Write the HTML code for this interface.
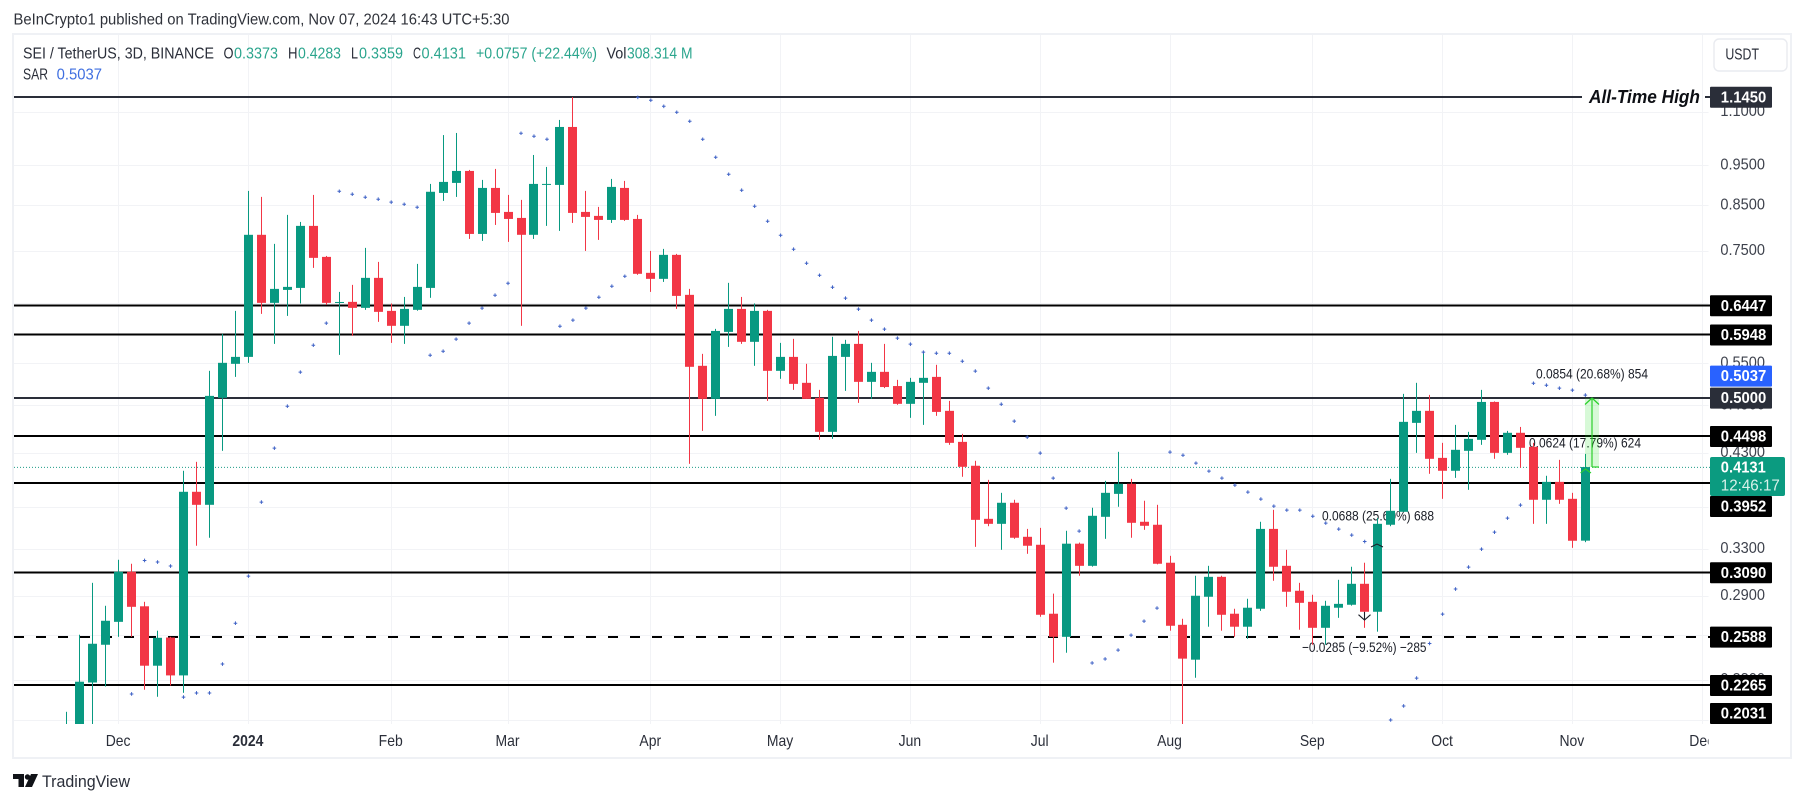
<!DOCTYPE html>
<html lang="en">
<head>
<meta charset="utf-8">
<title>SEI / TetherUS 3D chart</title>
<style>
html,body{margin:0;padding:0;background:#fff;width:1804px;height:803px;overflow:hidden}
svg{position:absolute;left:0;top:0;display:block}
text{font-family:"Liberation Sans",sans-serif;dominant-baseline:central}
</style>
</head>
<body>
<svg id="chart" xmlns="http://www.w3.org/2000/svg" width="1804" height="803" viewBox="0 0 1804 803">
  <defs>
    <clipPath id="plot-clip"><rect x="14" y="35" width="1694.5" height="689"/></clipPath>
    <clipPath id="time-clip"><rect x="14" y="725" width="1694.5" height="33"/></clipPath>
  </defs>
  <rect x="0" y="0" width="1804" height="803" fill="#ffffff"/>
  <rect x="13" y="34" width="1778" height="724" fill="#ffffff" stroke="#eff1f5" stroke-width="2"/>
  <text x="13.5" y="20" font-size="15.5" fill="#2f323a" textLength="496" lengthAdjust="spacingAndGlyphs">BeInCrypto1 published on TradingView.com, Nov 07, 2024 16:43 UTC+5:30</text>

  <g id="grid-layer" clip-path="url(#plot-clip)"></g>
  <g id="level-layer"></g>

  <g font-size="14" fill="#1a1d26">
    <text x="1536" y="373.7" textLength="112" lengthAdjust="spacingAndGlyphs">0.0854 (20.68%) 854</text>
    <text x="1529" y="442.7" textLength="112" lengthAdjust="spacingAndGlyphs">0.0624 (17.79%) 624</text>
    <text x="1322" y="515.7" textLength="112" lengthAdjust="spacingAndGlyphs">0.0688 (25.60%) 688</text>
    <text x="1302" y="647" textLength="124.5" lengthAdjust="spacingAndGlyphs">−0.0285 (−9.52%) −285</text>
  </g>

  <g id="candle-layer" clip-path="url(#plot-clip)"></g>
  <g id="sar-layer" clip-path="url(#plot-clip)"></g>

  <g>
    <rect x="1585" y="398" width="14" height="69" fill="#20e020" fill-opacity="0.18"/>
    <path d="M1592 467V398M1585 404.5L1592 398L1599 404.5" fill="none" stroke="#2bd02b" stroke-width="1.2"/>
    <path d="M1592 467H1599" fill="none" stroke="#2bd02b" stroke-width="1.2"/>
    <path d="M1580.5 473L1585.5 469L1591 473" fill="none" stroke="#2bd02b" stroke-width="1.1"/>
    <path d="M1364.5 612V620M1358.5 614.7L1364.5 620L1370.5 614.7" fill="none" stroke="#1a1d26" stroke-width="1.1"/>
    <path d="M1371 547L1377 544L1383 547" fill="none" stroke="#1a1d26" stroke-width="1"/>
  </g>

  <text x="1589" y="97" font-size="18" font-style="italic" font-weight="bold" fill="#0d0f14" textLength="111" lengthAdjust="spacingAndGlyphs">All-Time High</text>

  <g id="axis-layer"></g>
  <g id="time-layer" clip-path="url(#time-clip)"></g>
  <g id="label-layer"></g>

  <g>
    <rect x="1710" y="457" width="75" height="39" rx="2" fill="#0b9b80"/>
    <text x="1720.8" y="468" font-size="16" font-weight="bold" fill="#ffffff" textLength="45" lengthAdjust="spacingAndGlyphs">0.4131</text>
    <text x="1720.8" y="486" font-size="16" fill="#d9f1ea" textLength="59" lengthAdjust="spacingAndGlyphs">12:46:17</text>
  </g>

  <g font-size="15.5" fill="#2a2e39">
    <text x="23" y="54" textLength="191" lengthAdjust="spacingAndGlyphs">SEI / TetherUS, 3D, BINANCE</text>
    <text x="223.5" y="54" textLength="10" lengthAdjust="spacingAndGlyphs">O</text>
    <text x="234" y="54" fill="#2aa58d" textLength="44" lengthAdjust="spacingAndGlyphs">0.3373</text>
    <text x="288" y="54" textLength="9.5" lengthAdjust="spacingAndGlyphs">H</text>
    <text x="298" y="54" fill="#2aa58d" textLength="43" lengthAdjust="spacingAndGlyphs">0.4283</text>
    <text x="351" y="54" textLength="7" lengthAdjust="spacingAndGlyphs">L</text>
    <text x="359" y="54" fill="#2aa58d" textLength="44" lengthAdjust="spacingAndGlyphs">0.3359</text>
    <text x="413" y="54" textLength="8" lengthAdjust="spacingAndGlyphs">C</text>
    <text x="421.5" y="54" fill="#2aa58d" textLength="44.5" lengthAdjust="spacingAndGlyphs">0.4131</text>
    <text x="476" y="54" fill="#2aa58d" textLength="121" lengthAdjust="spacingAndGlyphs">+0.0757 (+22.44%)</text>
    <text x="606.5" y="54" textLength="20" lengthAdjust="spacingAndGlyphs">Vol</text>
    <text x="627" y="54" fill="#2aa58d" textLength="65.5" lengthAdjust="spacingAndGlyphs">308.314 M</text>
    <text x="23" y="75" textLength="25" lengthAdjust="spacingAndGlyphs">SAR</text>
    <text x="56.6" y="75" fill="#3f6fe0" textLength="45.4" lengthAdjust="spacingAndGlyphs">0.5037</text>
  </g>

  <g>
    <rect x="1714" y="39" width="73" height="32" rx="5" fill="#ffffff" stroke="#e9ebf0" stroke-width="1.4"/>
    <text x="1725.4" y="55" font-size="15.5" fill="#2a2e39" textLength="33.6" lengthAdjust="spacingAndGlyphs">USDT</text>
  </g>

  <g>
    <path d="M13 774H24V787H18.5V779H13Z M31 774H38L32 787H25Z" fill="#111318"/>
    <circle cx="27.5" cy="777" r="2.7" fill="#111318"/>
    <text x="42" y="781.5" font-size="17" fill="#2a2e39" textLength="88" lengthAdjust="spacingAndGlyphs">TradingView</text>
  </g>
</svg>

<script>
const opens = [.185,.20,.2282,.2532,.2697,.3096,.2815,.2390,.2583,.2327,
.3859,.3723,.4999,.5490,.5596,.7833,.6494,.6730,.6767,.8028,
.7371,.650,.6512,.6405,.6957,.6352,.6096,.6370,.6767,.8791,
.9037,.9340,.7852,.8913,.8343,.8206,.7833,.900,.8987,1.0543,
.8343,.8252,.8161,.8913,.8183,.7054,.6938,.7412,.6639,.5460,
.4985,.5995,.6387,.5833,.6352,.5385,.5596,.5210,.4999,.4552,
.5596,.5800,.5224,.5370,.5164,.4917,.5210,.5296,.4823,.4428,
.4146,.3582,.3533,.3744,.3409,.3335,.2758,.2588,.3345,.3147,
.3602,.3837,.3945,.3553,.3524,.3174,.2675,.2430,.2890,.3053,
.2758,.2661,.2796,.3484,.3147,.2938,.2850,.2653,.2804,.2827,
.2995,.2773,.3524,.3652,.4666,.4823,.4237,.4089,.4320,.4453,
.4943,.4296,.4540,.4368,.3775,.3966,.3785,.3373];
const highs = [.2105,.2603,.3003,.2819,.32,.3165,.2850,.2632,.2588,.4089,
.4191,.5385,.5962,.6352,.8840,.8696,.7640,.8275,.8116,.8743,
.739,.6693,.6824,.7556,.7270,.6483,.6601,.7230,.9012,1.031,
1.037,.9366,.9112,.9392,.8743,.8624,.9760,.9444,1.0749,1.145,
.8840,.8459,.9137,.9087,.8275,.7493,.7535,.7432,.6749,.5643,
.6045,.6862,.6601,.6483,.6370,.5816,.5881,.5490,.5110,.5914,
.5865,.6011,.5505,.5800,.5253,.5282,.5674,.5475,.4957,.4527,
.4203,.3988,.3848,.3775,.3484,.3494,.2915,.3466,.3355,.3693,
.3977,.4308,.3999,.3765,.3723,.3235,.2720,.3062,.3147,.3062,
.2796,.2874,.3553,.3672,.3289,.3003,.2906,.2858,.3028,.3139,
.3174,.359,.3999,.5054,.5210,.5040,.4416,.4640,.4552,.5110,
.4950,.4564,.4614,.4416,.4033,.4214,.3848,.4283];
const lows = [.18,.195,.2,.2257,.2588,.2588,.2237,.2194,.2263,.2218,
.3326,.3400,.4320,.5296,.5505,.6300,.5800,.6265,.6483,.7151,
.6458,.5627,.5930,.6370,.6163,.5816,.5800,.6355,.6585,.8600,
.8695,.7745,.7703,.8049,.7682,.6096,.7745,.8028,.7918,.8094,
.7493,.7724,.8094,.8139,.7016,.6693,.6880,.6387,.4168,.4564,
.4757,.5752,.5800,.5460,.4957,.5268,.5110,.4985,.4453,.4465,
.5096,.4930,.4985,.5135,.4904,.4731,.4640,.4757,.4392,.4022,
.3316,.3510,.3289,.3390,.3253,.2735,.2410,.2477,.3062,.3140,
.3390,.3703,.3400,.3475,.3160,.2632,.2035,.2312,.2661,.2632,
.2588,.2574,.2780,.3020,.2811,.2639,.2532,.2532,.2727,.2820,
.2653,.2625,.3510,.3652,.4296,.4055,.3785,.4010,.3880,.4392,
.4226,.4273,.4123,.3533,.3533,.3733,.3307,.3359];
const closes = [.195,.2287,.2539,.2705,.3096,.2811,.2390,.2581,.2327,.3859,
.3723,.5026,.5505,.5596,.7833,.6494,.6749,.6786,.8028,.7351,
.6494,.651,.6405,.6957,.6335,.6096,.6387,.6786,.8819,.9062,
.9340,.7852,.8913,.8320,.8183,.7833,.9012,.9012,1.0543,.8320,
.8229,.8161,.8938,.8161,.7035,.6938,.7412,.6620,.5445,.4985,
.6011,.6387,.5833,.6352,.5385,.5596,.5195,.4985,.4552,.5611,
.5800,.5224,.5370,.5150,.4917,.5224,.5282,.4809,.4416,.4134,
.3572,.3533,.3744,.3400,.3326,.2750,.2588,.3345,.3147,.3612,
.3848,.3945,.3543,.3514,.3165,.2668,.2437,.2898,.3053,.2750,
.2661,.2804,.3484,.3139,.2930,.2842,.2653,.2819,.2834,.2995,
.2773,.3533,.3662,.4679,.4823,.4226,.4089,.4332,.4465,.4943,
.4296,.4540,.4356,.3775,.3966,.3775,.3372,.4131];
const sarValues = [null,null,null,null,null,.2211,.3194,.3180,.3145,.2192,
.2217,.2217,.2401,.2687,.3059,.3751,.4352,.4885,.5366,.5779,
.6141,.8832,.8760,.8688,.8640,.8570,.8521,.8451,.5622,.5684,
.5876,.6141,.6400,.6632,.6854,1.0362,1.0277,1.0192,.6089,.6192,
.6400,.6596,.6799,.6988,1.1440,1.1348,1.1161,1.0979,1.0710,1.0192,
.9699,.9255,.8857,.8475,.8132,.7823,.7528,.7243,.7007,.6780,
.6579,.6382,.6192,.6040,.5892,.5796,.5669,.5653,.5653,.5530,
.5381,.5134,.4912,.4688,.4486,.4293,.4007,.3689,.3463,.2408,
.2435,.2495,.2600,.2702,.2801,.4305,.4268,.4176,.4085,.4007,
.3930,.3856,.3782,.3709,.3669,.3669,.3608,.3540,.3482,.3425,
.3365,null,.2058,.2139,.2310,.2541,.2755,.2952,.3136,.3295,
.3453,.3589,.3720,.5204,.5176,.5134,.5106,.5037];
const levelPrices = [1.145,.6447,.5948,.5,.4498,.3952,.309,.2588,.2265];
const levelStyles = ['ath','solid','solid','dark','solid','solid','solid','dashed','solid'];
const axisPrices = [1.1,.95,.85,.75,.65,.55,.49,.43,.37,.33,.29,.26,.23,.206];
const axisLabels = ['1.1000','0.9500','0.8500','0.7500','0.6500','0.5500','0.4900','0.4300','0.3700','0.3300','0.2900','0.2600','0.2300','0.2060'];
const badgePrices = [1.145,.6447,.5948,.5037,.5,.4498,.3952,.309,.2588,.2265,.2031];
const badgeLabels = ['1.1450','0.6447','0.5948','0.5037','0.5000','0.4498','0.3952','0.3090','0.2588','0.2265','0.2031'];
const badgeColors = ['#2a2e39','#000000','#000000','#2962ff','#2a2e39','#000000','#000000','#000000','#000000','#000000','#000000'];
const monthBars = [4,14,25,34,45,55,65,75,85,96,106,116,126];
const monthLabels = ['Dec','2024','Feb','Mar','Apr','May','Jun','Jul','Aug','Sep','Oct','Nov','Dec'];
const lastPrice = 0.4131;

const SVGNS = 'http://www.w3.org/2000/svg';
function xAt(i){ return 66.2 + i * 12.98; }
function yAt(p){ return 97 + 363 * Math.log(1.145 / p); }
function mk(parent, tag, attrs){
  const n = document.createElementNS(SVGNS, tag);
  for (const k in attrs) n.setAttribute(k, attrs[k]);
  parent.appendChild(n);
  return n;
}
const gridLayer = document.getElementById('grid-layer');
const levelLayer = document.getElementById('level-layer');
const candleLayer = document.getElementById('candle-layer');
const sarLayer = document.getElementById('sar-layer');
const axisLayer = document.getElementById('axis-layer');
const timeLayer = document.getElementById('time-layer');
const labelLayer = document.getElementById('label-layer');

axisPrices.forEach(function(p, i){
  const gy = Math.round(yAt(p)) + 0.5;
  const gl = mk(gridLayer, 'line', {x1:14, x2:1708.5, y1:gy, y2:gy, stroke:'#f2f3f6', 'stroke-width':1});
  
  
  const tx = mk(axisLayer, 'text', {x:1720.4, y:yAt(p), 'font-size':16, fill:'#3d414c', textLength:44.6, lengthAdjust:'spacingAndGlyphs'});
  
  
  tx.textContent = axisLabels[i];
});

monthBars.forEach(function(b, i){
  const vx = Math.round(xAt(b)) + 0.5;
  const vl = mk(gridLayer, 'line', {x1:vx, x2:vx, y1:35, y2:724, stroke:'#f2f3f6', 'stroke-width':1});
  
  
  const isYear = monthLabels[i] === '2024';
  const tl = mk(timeLayer, 'text', {x:xAt(b), y:741.7, 'font-size':15.5, fill:'#2a2e39', 'text-anchor':'middle', 'font-weight':isYear ? 'bold' : 'normal', transform:'translate(' + xAt(b) + ' 0) scale(.9 1) translate(' + (-xAt(b)) + ' 0)'});
  
  
  tl.textContent = monthLabels[i];
});

levelPrices.forEach(function(p, i){
  const ly = Math.round(yAt(p) * 2) / 2;
  const st = levelStyles[i];
  const attrs = {x1:14, x2:1710, y1:ly, y2:ly, stroke:'#000000', 'stroke-width':2};
  if (st === 'dark' || st === 'ath') attrs.stroke = '#2a2e39';
  if (st === 'dashed') attrs['stroke-dasharray'] = '10 12';
  if (st === 'ath') attrs.x2 = 1582;
  const ln = mk(levelLayer, 'line', attrs);
  
  
  if (st === 'ath') {
    const tail = mk(levelLayer, 'line', {x1:1705, x2:1710, y1:ly, y2:ly, stroke:'#2a2e39', 'stroke-width':2});
    
    
  }
});

const lastLine = mk(levelLayer, 'line', {x1:14, x2:1710, y1:yAt(lastPrice) + 0.3, y2:yAt(lastPrice) + 0.3, stroke:'#1f9d87', 'stroke-width':1, 'stroke-dasharray':'1 2'});



closes.forEach(function(c, i){
  const o = opens[i];
  const up = c >= o;
  const col = up ? '#089981' : '#f23645';
  const cx = Math.round(xAt(i));
  const wick = mk(candleLayer, 'rect', {x:cx, y:yAt(highs[i]), width:1, height:Math.max(0.5, yAt(lows[i]) - yAt(highs[i])), fill:col});
  
  
  const top = yAt(Math.max(o, c));
  const bot = yAt(Math.min(o, c));
  const body = mk(candleLayer, 'rect', {x:cx - 4, y:top, width:9, height:Math.max(1, bot - top), fill:col});
  
  
});

sarValues.forEach(function(v, i){
  if (v === null) return;
  const sx = xAt(i) + 0.5;
  const sy = yAt(v);
  const pt = mk(sarLayer, 'path', {d:'M' + (sx - 1.8) + ' ' + sy + 'H' + (sx + 1.8) + 'M' + sx + ' ' + (sy - 1.8) + 'V' + (sy + 1.8), stroke:'#3f62c6', 'stroke-width':1, fill:'none'});
  
  
});

/* badge layout: labels are pushed clear of the live-price box and of each other, as TradingView does */
const badgeH = 21;
const liveTop = 457;
const liveBottom = 496;
const centers = badgePrices.map(function(p){
  let cy = Math.min(yAt(p) + 0.3, 713.5);
  if (p < lastPrice && cy - badgeH / 2 < liveBottom && cy + badgeH / 2 > liveTop) cy = liveBottom + badgeH / 2;
  return cy;
});
for (let i = centers.length - 2; i >= 0; i--) {
  if (centers[i] + badgeH / 2 > centers[i + 1] - badgeH / 2) centers[i] = centers[i + 1] - badgeH - 1;
}
badgePrices.forEach(function(p, i){
  const cy = centers[i];
  const box = mk(labelLayer, 'rect', {x:1710, y:cy - badgeH / 2, width:62, height:badgeH, rx:1, fill:badgeColors[i]});
  
  
  const t = mk(labelLayer, 'text', {x:1720.8, y:cy + 0.5, 'font-size':16, 'font-weight':'bold', fill:'#ffffff', textLength:45.5, lengthAdjust:'spacingAndGlyphs'});
  
  
  t.textContent = badgeLabels[i];
});
</script>
</body>
</html>
